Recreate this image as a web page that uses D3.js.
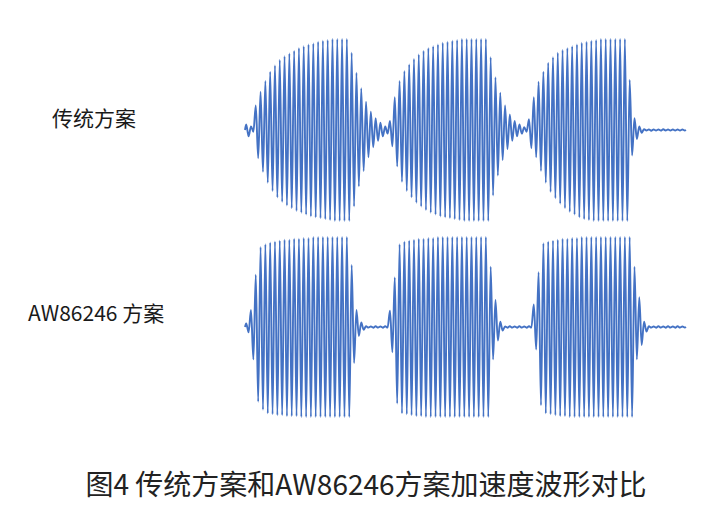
<!DOCTYPE html>
<html>
<head>
<meta charset="utf-8">
<script src="https://cdn.jsdelivr.net/npm/d3@7"></script>
<style>
  html, body { margin: 0; padding: 0; background: #fff; }
  svg { display: block; }
</style>
</head>
<body>
<div id="chart"></div>
<script>
// acceleration peaks, one value per half cycle (normalised to full scale)
// traditional drive: slow build-up, long ring-down between bursts
const traditionalPeaks = [
  0.06, -0.07, 0.04, -0.02,                                           // onset blip
  0.27, -0.31, 0.42, -0.46, 0.54, -0.58, 0.64, -0.67, 0.71, -0.74,    // burst 1
  0.77, -0.79, 0.81, -0.83, 0.84, -0.86, 0.87, -0.89, 0.90, -0.91,
  0.92, -0.93, 0.94, -0.95, 0.95, -0.96, 0.97, -0.97, 0.98, -0.98,
  0.99, -0.99, 1.00, -1.00, 1.00, -1.00, 1.00, -1.00, 1.00, -1.00,
  0.85, -0.84, 0.63, -0.62, 0.46, -0.45, 0.31, -0.30,                 // ring-down 1
  0.20, -0.19, 0.13, -0.12, 0.08, -0.07, 0.04, -0.04,
  0.10, -0.18, 0.36, -0.40, 0.54, -0.57, 0.65, -0.67, 0.72, -0.74,    // burst 2
  0.78, -0.80, 0.83, -0.84, 0.87, -0.88, 0.90, -0.91, 0.92, -0.93,
  0.94, -0.95, 0.96, -0.96, 0.97, -0.97, 0.98, -0.98, 0.99, -0.99,
  1.00, -1.00, 1.00, -1.00, 1.00, -1.00, 1.00, -1.00, 1.00, -1.00, 1.00, -1.00,
  0.80, -0.72, 0.58, -0.50, 0.41, -0.33, 0.27, -0.21,                 // ring-down 2
  0.17, -0.12, 0.10, -0.07, 0.06, -0.04, 0.03, -0.02,
  0.12, -0.20, 0.36, -0.30, 0.53, -0.45, 0.64, -0.58, 0.74, -0.68,    // burst 3
  0.80, -0.75, 0.85, -0.81, 0.88, -0.86, 0.90, -0.90, 0.92, -0.93,
  0.94, -0.96, 0.96, -0.98, 0.97, -0.99, 0.98, -1.00, 0.99, -1.00,
  1.00, -1.00, 1.00, -1.00, 1.00, -1.00, 1.00, -1.00, 1.00, -1.00, 1.00, -1.00,
  0.55, -0.28, 0.13, -0.10, 0.04, -0.03,                              // brake
  0.008, -0.005, 0.006, -0.008, 0.006, -0.005, 0.005, -0.006, 0.008,  // tail
  -0.005, 0.005, -0.006, 0.006, -0.005, 0.005, -0.005, 0.005, -0.005
];

// AW86246: fast start, square envelope, short stop
const awPeaks = [
  0.04, -0.06,
  0.19, -0.36, 0.58, -0.83, 0.89, -0.92, 0.92, -0.96, 0.94, -0.97,    // burst 1
  0.95, -0.98, 0.96, -0.98, 0.97, -0.99, 0.97, -0.99, 0.98, -0.99,
  0.98, -1.00, 0.99, -1.00, 0.99, -1.00, 1.00, -1.00, 1.00, -1.00,
  1.00, -1.00, 1.00, -1.00, 1.00, -1.00, 1.00, -1.00, 1.00, -1.00, 1.00, -1.00,
  0.69, -0.40, 0.19, -0.10, 0.05, -0.03,                              // stop 1
  0.008, -0.006, 0.006, -0.008, 0.008, -0.006, 0.006, -0.008, 0.008, -0.006,
  0.18, -0.28, 0.55, -0.85, 0.92, -0.96, 0.95, -0.97, 0.96, -0.98,    // burst 2
  0.97, -0.99, 0.98, -0.99, 0.98, -1.00, 0.99, -1.00, 0.99, -1.00,
  1.00, -1.00, 1.00, -1.00, 1.00, -1.00, 1.00, -1.00, 1.00, -1.00, 1.00, -1.00,
  1.00, -1.00, 1.00, -1.00, 1.00, -1.00, 1.00, -1.00, 1.00, -1.00,
  0.67, -0.36, 0.30, -0.15, 0.06, -0.04,                              // stop 2
  0.006, -0.008, 0.008, -0.006, 0.006, -0.008, 0.008, -0.006, 0.006, -0.008, 0.008, -0.006,
  0.25, -0.25, 0.61, -0.87, 0.93, -0.96, 0.95, -0.97, 0.96, -0.98,    // burst 3
  0.97, -0.99, 0.98, -0.99, 0.98, -1.00, 0.99, -1.00, 0.99, -1.00,
  1.00, -1.00, 1.00, -1.00, 1.00, -1.00, 1.00, -1.00, 1.00, -1.00, 1.00, -1.00,
  1.00, -1.00, 1.00, -1.00, 1.00, -1.00, 1.00, -1.00, 1.00, -1.00,
  0.67, -0.36, 0.33, -0.20, 0.06, -0.05,                              // stop 3
  0.008, -0.006, 0.006, -0.008, 0.008, -0.006, 0.006, -0.008,
  0.008, -0.006, 0.006, -0.008, 0.008, -0.006, 0.006, -0.006
];

const seriesLabels = ["传统方案", "AW86246 方案"];
const caption = "图4 传统方案和AW86246方案加速度波形对比";

const width = 711, height = 511;
const lineColor = "#4472c4";
const cjkFont = "'Noto Sans CJK SC', 'Noto Sans', sans-serif";

const svg = d3.select("#chart").append("svg")
  .attr("width", width)
  .attr("height", height)
  .attr("xmlns", "http://www.w3.org/2000/svg");

// time in drive cycles, two peaks per cycle
const toPoints = peaks => {
  const pts = [{t: 0, v: 0}];
  peaks.forEach((v, k) => pts.push({t: (k + 0.5) * 0.5, v: v}));
  pts.push({t: peaks.length * 0.5, v: 0});
  return pts;
};

const traditional = toPoints(traditionalPeaks);
const aw = toPoints(awPeaks);

const x = d3.scaleLinear()
  .domain([0, d3.max([traditional, aw], s => s[s.length - 1].t)])
  .range([245, 686]);

const panels = [
  {data: traditional, y: d3.scaleLinear().domain([-1, 1]).range([221, 39]), labelX: 52, labelY: 117},
  {data: aw, y: d3.scaleLinear().domain([-1, 1]).range([417, 237]), labelX: 28, labelY: 312}
];

panels.forEach((p, i) => {
  const line = d3.line()
    .x(d => x(d.t))
    .y(d => p.y(d.v))
    .curve(d3.curveMonotoneX);

  svg.append("path")
    .datum(p.data)
    .attr("fill", "none")
    .attr("stroke", lineColor)
    .attr("stroke-width", 1.9)
    .attr("stroke-linejoin", "round")
    .attr("d", line);

  svg.append("text")
    .attr("x", p.labelX)
    .attr("y", p.labelY)
    .attr("dominant-baseline", "central")
    .attr("font-family", cjkFont)
    .attr("font-size", 21)
    .attr("fill", "#1a1a1a")
    .text(seriesLabels[i]);
});

svg.append("text")
  .attr("x", 366)
  .attr("y", 483)
  .attr("text-anchor", "middle")
  .attr("dominant-baseline", "central")
  .attr("font-family", cjkFont)
  .attr("font-size", 28)
  .attr("fill", "#222")
  .text(caption);
</script>
</body>
</html>
